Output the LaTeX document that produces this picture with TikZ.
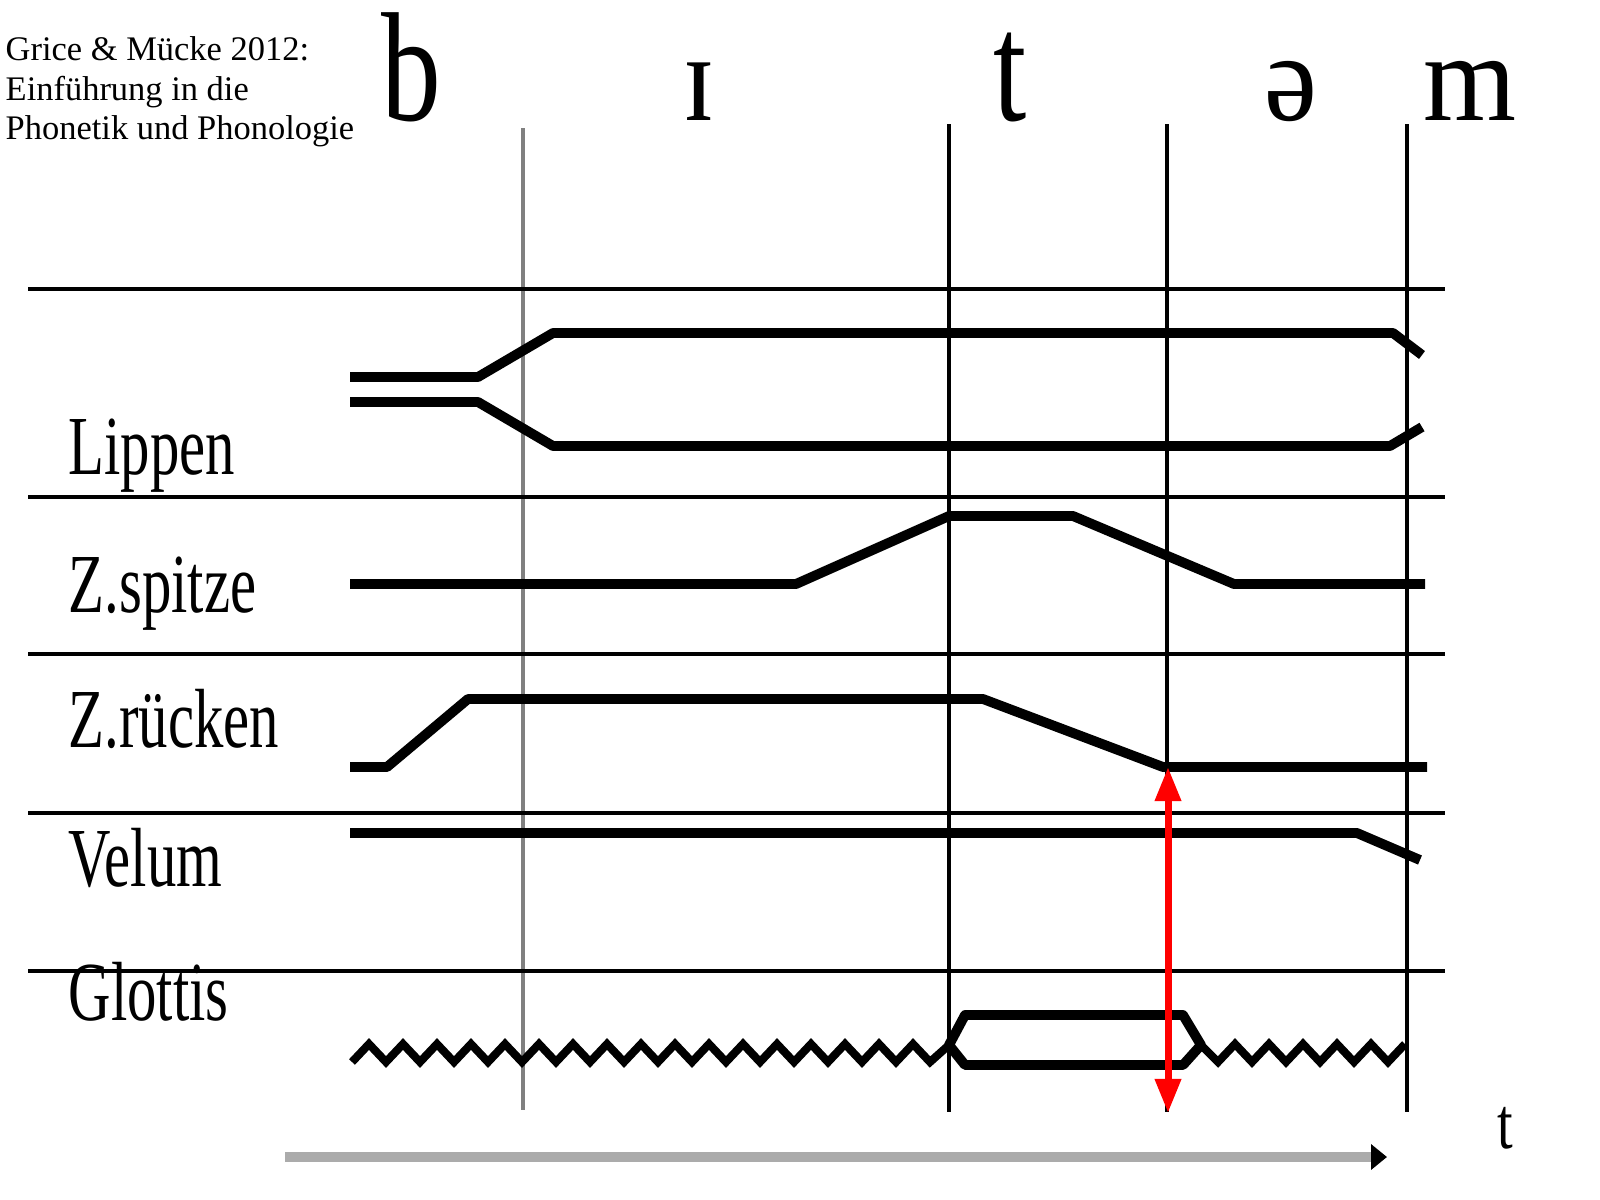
\documentclass[tikz,border=0pt]{standalone}
\usepackage{fontspec}
\setmainfont{Liberation Serif}
\usetikzlibrary{arrows.meta}

\tikzset{
  divider/.style={line width=1.2pt},
  boundary/.style={line width=0.95pt},
  gesture/.style={line width=2.8pt, line join=round},
  voicing/.style={line width=2.3pt, line join=miter},
  rowlabel/.style={anchor=base west, inner sep=0pt, font=\fontsize{16.7}{20}\selectfont},
  phone/.style={anchor=base, inner sep=0pt, font=\fontsize{34}{40}\selectfont},
}
\newcommand{\stretchy}[2]{\scalebox{1}[#1]{#2}}

\begin{document}
\begin{tikzpicture}[x=0.01cm, y=-0.01cm]
  \useasboundingbox (0,0) rectangle (1600,1200);

  % Source
  \node[anchor=north west, align=left, inner sep=0pt, font=\fontsize{9.8}{11.2}\selectfont] (source) at (5,36)
    {Grice \& Mücke 2012:\\Einführung in die\\Phonetik und Phonologie};

  % Segments
  \node[phone] (seg-b) at (411,120) {\stretchy{1.3}{b}};
  \node[phone] (seg-I) at (699,120) {\stretchy{1.05}{ɪ}};
  \node[phone] (seg-t) at (1010,120) {\stretchy{1.3}{t}};
  \node[phone] (seg-schwa) at (1291,120) {\stretchy{1.05}{ə}};
  \node[phone] (seg-m) at (1470,120) {\stretchy{1.05}{m}};

  % Segment boundaries
  \draw[gray, line width=1.1pt] (523,128) -- (523,1110);
  \foreach \bx in {949,1167,1407}
    \draw[boundary] (\bx,124) -- (\bx,1112);

  % Tiers
  \foreach \ty in {289,497,654,813,971}
    \draw[divider] (28,\ty) -- (1445,\ty);

  \node[rowlabel] (lab-lips) at (68,474) {\stretchy{1.43}{Lippen}};
  \node[rowlabel] (lab-tip) at (68,612) {\stretchy{1.43}{Z.spitze}};
  \node[rowlabel] (lab-body) at (68,747) {\stretchy{1.43}{Z.rücken}};
  \node[rowlabel] (lab-velum) at (68,886) {\stretchy{1.43}{Velum}};
  \node[rowlabel] (lab-glottis) at (68,1020) {\stretchy{1.43}{Glottis}};

  % Lippen
  \draw[gesture] (350,377) -- (478,377) -- (553,333) -- (1393,333) -- (1422,355);
  \draw[gesture] (350,402) -- (478,402) -- (553,446) -- (1390,446) -- (1422,427);

  % Zungenspitze
  \draw[gesture] (350,584) -- (796,584) -- (949,516) -- (1073,516) -- (1234,584) -- (1425,584);

  % Zungenruecken
  \draw[gesture] (350,767) -- (387,767) -- (468,699) -- (983,699) -- (1163,767) -- (1427,767);

  % Velum
  \draw[gesture] (350,833) -- (1357,833) -- (1420,860);

  % Glottis: voicing, then open glottis for [t]
  \draw[voicing] (352,1062) \foreach \k in {1,...,34} { -- ({352+17*\k},{1053+9*cos(180*\k)}) } -- (949,1045);
  \draw[gesture] (949,1045) -- (965,1015) -- (1183,1015) -- (1201,1045) -- (1183,1065) -- (965,1065) -- cycle;
  \draw[voicing] (1201,1045) \foreach \k in {1,...,12} { -- ({1201+17*\k},{1053-9*cos(180*\k)}) };

  % Release
  \coordinate (rel-top) at (1168,767);
  \coordinate (rel-bot) at (1168,1113);
  \draw[red, line width=2pt, {Triangle[length=9.7pt,width=7.1pt]}-{Triangle[length=9.7pt,width=7.1pt]}] (rel-top) -- (rel-bot);

  % Time axis
  \coordinate (time-start) at (285,1157);
  \coordinate (time-end) at (1387,1157);
  \draw[black!33, line width=2.8pt, -{Triangle[black,length=4.5pt,width=7pt]}] (time-start) -- (time-end);
  \node[phone, font=\fontsize{16}{20}\selectfont] (time-label) at (1505,1148) {\stretchy{1.3}{t}};
\end{tikzpicture}
\end{document}
